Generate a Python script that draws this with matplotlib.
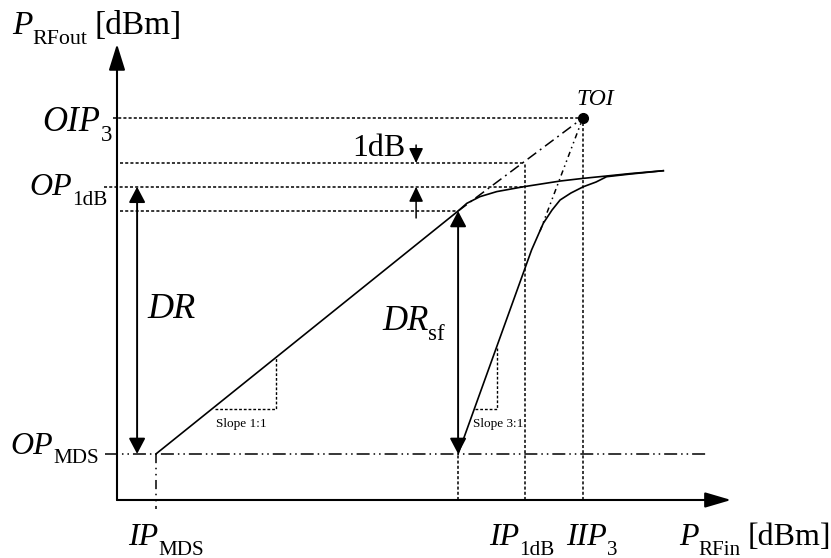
import numpy as np
import matplotlib
matplotlib.use('Agg')
from matplotlib import pyplot as plt

plt.rcParams['font.family'] = 'Liberation Serif'

# schematic units: x = input power, y = output power (1 unit = 1 dB on the y axis)
ip_mds, ip_sf, ip_1db, iip3 = 1.3, 11.37, 13.6, 15.53
op_mds, op_sf, op_1db, op_lin, oip3 = 1.92, 12.04, 13.05, 14.04, 15.92
x_axis_end, y_axis_end = 20.47, 19.0
mds_line = [-0.4, 19.7]

# fundamental output curve
fund_x = [1.3, 11.37, 11.66, 12.1, 12.66, 13.54, 14.77, 15.53, 16.32, 17.1, 18.21]
fund_y = [1.92, 12.04, 12.36, 12.64, 12.85, 13.05, 13.29, 13.4, 13.5, 13.6, 13.72]

# third order intermod curve
im3_x = [11.37, 13.82, 14.21, 14.5, 14.77, 15.13, 15.54, 15.97, 16.32, 17.1, 18.21]
im3_y = [1.92, 10.42, 11.53, 12.08, 12.5, 12.79, 13.05, 13.25, 13.47, 13.58, 13.72]

# extrapolations towards the third order intercept
fund_ext_x = [11.37, iip3]
fund_ext_y = [12.04, oip3]
im3_ext_x = [14.1, iip3]
im3_ext_y = [11.2, oip3]

# slope triangles
slope1_x = [3.27, 5.3, 5.3]
slope1_y = [3.79, 3.79, 5.92]
slope3_x = [11.93, 12.67, 12.67]
slope3_y = [3.79, 3.79, 6.33]

fig = plt.figure(figsize=(8.31, 5.58), dpi=100)
ax = fig.add_axes([0, 0, 1, 1])
ax.set_xlim(-3.9, 23.8)
ax.set_ylim(-2.417, 20.833)
ax.axis('off')
renderer = fig.canvas.get_renderer()
px_x = ax.transData.transform((1, 0))[0] - ax.transData.transform((0, 0))[0]
px_y = ax.transData.transform((0, 1))[1] - ax.transData.transform((0, 0))[1]

dot = (0, (2, 1.4))
lw = 1.1


def arrow(x0, y0, x1, y1, style='-|>', hl=9, hw=4.6, w=1.3):
    ax.annotate('', xy=(x1, y1), xytext=(x0, y0),
                arrowprops=dict(arrowstyle='%s,head_length=%g,head_width=%g' % (style, hl, hw),
                                mutation_scale=1, lw=w, color='black',
                                shrinkA=0, shrinkB=0))


def label(x, y, main, sub, size, ha='left', tail=None):
    # italic symbol with an upright, lowered subscript
    t = ax.text(x, y, main, fontsize=size, style='italic', va='baseline')
    s = ax.text(x, y, sub, fontsize=size * 0.66, va='baseline')
    parts = [t, s]
    if tail:
        parts.append(ax.text(x, y, tail, fontsize=size, va='baseline'))
    widths = [p.get_window_extent(renderer).width / px_x for p in parts]
    gap = 0.25 if tail else 0
    total = sum(widths) + gap
    if ha == 'right':
        x0 = x - total
    elif ha == 'center':
        x0 = x - total / 2
    else:
        x0 = x
    drop = size * 0.3 * 100 / 72 / px_y
    t.set_x(x0)
    s.set_x(x0 + widths[0])
    s.set_y(y - drop)
    if tail:
        parts[2].set_x(x0 + widths[0] + widths[1] + gap)


# axes
arrow(0, 0, 0, y_axis_end, hl=16, hw=5, w=1.5)
arrow(0, 0, x_axis_end, 0, hl=16, hw=4.7, w=1.5)

# dotted guide lines
ax.plot([-0.15, iip3], [oip3, oip3], 'k', lw=lw, ls=dot)
ax.plot([iip3, iip3], [0, oip3], 'k', lw=lw, ls=dot)
ax.plot([0.1, ip_1db], [op_lin, op_lin], 'k', lw=lw, ls=dot)
ax.plot([ip_1db, ip_1db], [0, op_lin], 'k', lw=lw, ls=dot)
ax.plot([-0.45, fund_x[5]], [op_1db, op_1db], 'k', lw=lw, ls=dot)
ax.plot([0.1, ip_sf], [op_sf, op_sf], 'k', lw=lw, ls=dot)
ax.plot([ip_sf, ip_sf], [0, op_mds], 'k', lw=lw, ls=dot)

# MDS level
ax.plot(mds_line, [op_mds, op_mds], 'k', lw=lw, dashes=(8.5, 2.6, 1, 2.6, 1, 2.6))
ax.plot([ip_mds, ip_mds], [op_mds, -0.375], 'k', lw=lw, dashes=(6, 3, 1, 3, 1, 3))

# curves
ax.plot(fund_x, fund_y, 'k', lw=1.2)
ax.plot(im3_x, im3_y, 'k', lw=1.2)
ax.plot(fund_ext_x, fund_ext_y, 'k', lw=lw, dashes=(7, 3, 1.2, 3))
ax.plot(im3_ext_x, im3_ext_y, 'k', lw=lw, dashes=(3.5, 2.5, 1, 2.5, 1, 2.5))
ax.plot([iip3], [oip3], 'o', color='black', ms=7)

ax.plot(slope1_x, slope1_y, 'k', lw=1.0, ls=dot)
ax.plot(slope3_x, slope3_y, 'k', lw=1.0, ls=dot)

# dynamic range arrows
arrow(0.67, op_mds, 0.67, op_1db, style='<|-|>', hl=9.5, hw=5, w=1.4)
arrow(ip_sf, op_mds, ip_sf, op_sf, style='<|-|>', hl=9.5, hw=5, w=1.4)
arrow(9.97, 14.79, 9.97, op_lin, hl=9, hw=4.3, w=1.1)
arrow(9.97, 11.75, 9.97, op_1db, hl=9, hw=4.3, w=1.1)

# labels
big = 23
label(-3.5, 19.4, 'P', 'RFout', 24, tail='[dBm]')
label(-0.17, 15.38, 'OIP', '3', 25, ha='right')
label(-0.33, 12.71, 'OP', '1dB', big, ha='right')
label(-0.6, 1.92, 'OP', 'MDS', big, ha='right')
label(0.37, -1.875, 'IP', 'MDS', big)
label(12.4, -1.875, 'IP', '1dB', big)
label(14.97, -1.875, 'IIP', '3', big)
label(18.73, -1.875, 'P', 'RFin', big, tail='[dBm]')
ax.text(1.03, 7.58, 'DR', fontsize=26, style='italic', va='baseline')
label(8.83, 7.08, 'DR', 'sf', 25)
ax.text(15.33, 16.46, 'TOI', fontsize=17, style='italic', va='baseline')
ax.text(7.83, 14.33, '1dB', fontsize=big, va='baseline')
ax.text(3.3, 3.04, 'Slope 1:1', fontsize=9.5, va='baseline')
ax.text(11.87, 3.04, 'Slope 3:1', fontsize=9.5, va='baseline')

fig.savefig('out.png', dpi=100)
